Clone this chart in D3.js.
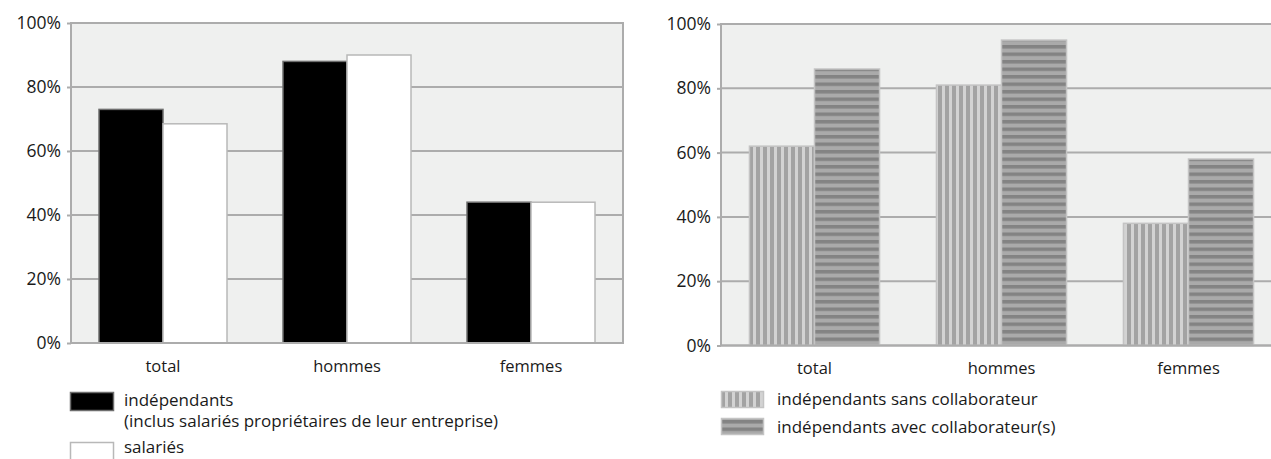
<!DOCTYPE html>
<html>
<head>
<meta charset="utf-8">
<script src="https://cdn.jsdelivr.net/npm/d3@7"></script>
<style>
  html, body { margin: 0; padding: 0; background: #ffffff; }
  svg { display: block; }
  text { font-family: "Open Sans", "Noto Sans", sans-serif; fill: #1a1a1a; }
</style>
</head>
<body>
<svg id="chart" width="1271" height="459"></svg>
<script>
// Categories and series (shares, in %)
const categories = ["total", "hommes", "femmes"];
const independants = [73, 88, 44];
const salaries = [68.5, 90, 44];
const sansCollaborateur = [62, 81, 38];
const avecCollaborateurs = [86, 95, 58];
const yTicks = [0, 20, 40, 60, 80, 100];

const leftLegend = [
  { lines: ["indépendants", "(inclus salariés propriétaires de leur entreprise)"], fill: "#000000", stroke: "#6e6e6e" },
  { lines: ["salariés"], fill: "#ffffff", stroke: "#b8b8b8" }
];
const rightLegend = [
  { lines: ["indépendants sans collaborateur"], fill: "url(#vstripes)", stroke: "#c4c4c4" },
  { lines: ["indépendants avec collaborateur(s)"], fill: "url(#hstripes)", stroke: "#c4c4c4" }
];

const svg = d3.select("#chart");
const defs = svg.append("defs");

// vertical stripes
const pv = defs.append("pattern").attr("id", "vstripes")
  .attr("patternUnits", "userSpaceOnUse").attr("width", 7).attr("height", 10);
pv.append("rect").attr("width", 7).attr("height", 10).attr("fill", "#a3a3a3");
pv.append("rect").attr("x", 4).attr("width", 3).attr("height", 10).attr("fill", "#d3d3d3");

// horizontal stripes
const ph = defs.append("pattern").attr("id", "hstripes")
  .attr("patternUnits", "userSpaceOnUse").attr("width", 10).attr("height", 7.5);
ph.append("rect").attr("width", 10).attr("height", 7.5).attr("fill", "#aaaaaa");
ph.append("rect").attr("y", 0).attr("width", 10).attr("height", 3.5).attr("fill", "#838383");

const gridColor = "#acacac";

function drawChart(opts) {
  const { left, right, top, bottom, series, fills, strokes } = opts;
  const g = svg.append("g");

  const x = d3.scaleBand().domain(categories).range([left, right]).paddingInner(0).paddingOuter(0);
  const xs = d3.scaleBand().domain(d3.range(series.length)).range([0, x.bandwidth()])
    .paddingInner(0).paddingOuter(0.4375);
  const y = d3.scaleLinear().domain([0, 100]).range([bottom, top]);

  // plot background
  g.append("rect").attr("x", left).attr("y", top)
    .attr("width", right - left).attr("height", bottom - top)
    .attr("fill", "#eff0ef");

  // gridlines
  g.append("g").selectAll("line").data(yTicks).join("line")
    .attr("x1", left).attr("x2", right)
    .attr("y1", d => y(d)).attr("y2", d => y(d))
    .attr("stroke", gridColor).attr("stroke-width", 2);

  // y axis
  const yAxis = d3.axisLeft(y).tickValues(yTicks).tickFormat(d => d + "%")
    .tickSize(4).tickPadding(6);
  const ya = g.append("g").attr("transform", `translate(${left},0)`).call(yAxis);
  ya.select(".domain").remove();
  ya.selectAll(".tick line").attr("stroke", gridColor).attr("stroke-width", 2);
  ya.selectAll(".tick text").attr("font-size", 17.5).attr("fill", "#1a1a1a")
    .attr("font-family", "\"Open Sans\", sans-serif");

  // bars
  series.forEach((vals, si) => {
    g.append("g").selectAll("rect").data(vals).join("rect")
      .attr("x", (d, i) => x(categories[i]) + xs(si))
      .attr("y", d => y(d))
      .attr("width", xs.bandwidth())
      .attr("height", d => y(0) - y(d))
      .attr("fill", fills[si])
      .attr("stroke", strokes[si])
      .attr("stroke-width", 1.5);
  });

  // plot frame
  g.append("rect").attr("x", left).attr("y", top)
    .attr("width", right - left).attr("height", bottom - top)
    .attr("fill", "none").attr("stroke", gridColor).attr("stroke-width", 2);

  // x axis labels
  const xAxis = d3.axisBottom(x).tickSize(0).tickPadding(17);
  const xa = g.append("g").attr("transform", `translate(0,${bottom})`).call(xAxis);
  xa.select(".domain").remove();
  xa.selectAll(".tick text").attr("font-size", 16.5).attr("fill", "#1a1a1a")
    .attr("font-family", "\"Open Sans\", sans-serif");
}

drawChart({
  left: 71, right: 623, top: 23, bottom: 343,
  series: [independants, salaries],
  fills: ["#000000", "#ffffff"],
  strokes: ["#6e6e6e", "#b8b8b8"]
});

drawChart({
  left: 721, right: 1282, top: 24, bottom: 345.5,
  series: [sansCollaborateur, avecCollaborateurs],
  fills: ["url(#vstripes)", "url(#hstripes)"],
  strokes: ["#c4c4c4", "#c4c4c4"]
});

// legends
function drawLegend(items, x0, swW, swH, rows, textX, lineGap) {
  const g = svg.append("g");
  items.forEach((it, i) => {
    const r = rows[i];
    g.append("rect").attr("x", x0).attr("y", r.swatchY)
      .attr("width", swW).attr("height", swH)
      .attr("fill", it.fill).attr("stroke", it.stroke).attr("stroke-width", 1.5);
    it.lines.forEach((t, j) => {
      g.append("text").attr("x", textX).attr("y", r.baseline + j * lineGap)
        .attr("font-size", 17).text(t);
    });
  });
}

drawLegend(leftLegend, 70.5, 43, 18, [
  { swatchY: 392.5, baseline: 406 },
  { swatchY: 442.5, baseline: 453 }
], 124, 20.5);

drawLegend(rightLegend, 721.5, 42, 16, [
  { swatchY: 391.5, baseline: 405 },
  { swatchY: 418.5, baseline: 433 }
], 777, 20);
</script>
</body>
</html>
